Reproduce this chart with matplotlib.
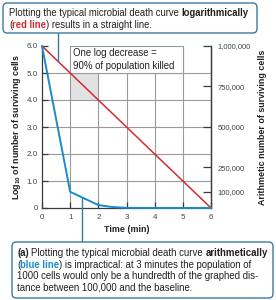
import matplotlib
matplotlib.use("Agg")
import matplotlib.pyplot as plt
from matplotlib.patches import FancyBboxPatch, Rectangle

plt.rcParams['font.family'] = ['Liberation Sans', 'DejaVu Sans']
plt.rcParams['mathtext.fontset'] = 'custom'
plt.rcParams['mathtext.rm'] = 'Liberation Sans:bold'
plt.rcParams['mathtext.bf'] = 'Liberation Sans:bold'

# data
time_min = [0, 1, 2, 3, 4, 5, 6]
log_cells = [6.0, 5.0, 4.0, 3.0, 2.0, 1.0, 0.0]
blue_time = [0, 1, 2, 2.5, 3, 4, 5, 6]
blue_cells = [1000000, 100000, 18000, 6000, 1000, 100, 10, 1]
left_ticks = [0, 1, 2, 3, 4, 5, 6]
left_labels = ['0', '1.0', '2.0', '3.0', '4.0', '5.0', '6.0']
right_ticks = [100000, 250000, 500000, 750000, 1000000]
right_labels = ['100,000', '250,000', '500,000', '750,000', '1,000,000']

RED = '#d42a32'
BLUE = '#1b8bc9'
BOX = '#3a7aa3'
GRID = '#9a9a9a'
DARK = '#3c3c3c'
TXT = '#231f20'
W, H = 276, 300

fig = plt.figure(figsize=(2.76, 3.0), dpi=100)
ax = fig.add_axes([42 / W, 1 - 208 / H, 169 / W, 162 / H])
ax.set_xlim(0, 6)
ax.set_ylim(0, 6)

# grid
for v in range(1, 6):
    ax.axvline(v, color=GRID, lw=0.8, zorder=1)
    ax.axhline(v, color=GRID, lw=0.8, zorder=1)

# shaded one-log cell and label box
ax.add_patch(Rectangle((1, 4), 1, 1, facecolor='#e2e2e2', edgecolor='none', zorder=0.5))
ax.add_patch(Rectangle((1, 5), 4, 1, facecolor='white', edgecolor=GRID, lw=0.8, zorder=2))
ax.text(1.1, 5.5, 'One log decrease =\n90% of population killed', fontsize=6.9,
        va='center', ha='left', color=TXT, linespacing=1.3, zorder=3)

ax.plot(time_min, log_cells, color=RED, lw=1.1, zorder=4)

ax.spines['top'].set_visible(False)
for s in ['left', 'bottom', 'right']:
    ax.spines[s].set_color(DARK)
    ax.spines[s].set_linewidth(0.9)

ax.set_xticks(time_min)
ax.set_xticklabels([str(t) for t in time_min])
ax.set_yticks(left_ticks)
ax.set_yticklabels(left_labels)
ax.tick_params(axis='both', direction='in', length=4, width=0.9, color=DARK,
               labelsize=5.8, labelcolor='#444444', pad=3)
ax.tick_params(axis='x', pad=4)
ax.set_xlabel('Time (min)', fontsize=6.4, fontweight='bold', color=TXT, labelpad=3)
ax.set_ylabel('Log$_{10}$ of number of surviving cells', fontsize=6.4,
              fontweight='bold', color=TXT, labelpad=3)

ax2 = ax.twinx()
ax2.set_ylim(0, 1000000)
ax2.plot(blue_time, blue_cells, color=BLUE, lw=1.4, zorder=5, clip_on=False)
ax2.set_yticks(right_ticks)
ax2.set_yticklabels(right_labels)
ax2.tick_params(axis='y', direction='in', length=6, width=0.9, color=DARK,
                labelsize=5.5, labelcolor='#444444', pad=5)
for s in ['top', 'left', 'bottom']:
    ax2.spines[s].set_visible(False)
ax2.spines['right'].set_color(DARK)
ax2.spines['right'].set_linewidth(0.9)
ax2.set_ylabel('Arithmetic number of surviving cells', fontsize=6.4,
               fontweight='bold', color=TXT, labelpad=5)

# callout boxes
def px_box(x0, y0, x1, y1):
    b = FancyBboxPatch((x0 / W, 1 - y1 / H), (x1 - x0) / W, (y1 - y0) / H,
                       boxstyle='round,pad=0,rounding_size=0.015',
                       transform=fig.transFigure, facecolor='white',
                       edgecolor=BOX, lw=1.0, zorder=10)
    fig.add_artist(b)

renderer = fig.canvas.get_renderer()

def text_w(s, size, weight):
    t = fig.text(0, 0, s, fontsize=size, fontweight=weight)
    w = t.get_window_extent(renderer).width
    t.remove()
    return w

def rich_line(x, y, pieces, size=6.9):
    # y is the baseline in pixels from the top
    sp = text_w('x x', size, 'normal') - text_w('xx', size, 'normal')
    for txt, color, weight in pieces:
        if txt.startswith(' '):
            x += sp
        core = txt.strip()
        t = fig.text(x / W, 1 - y / H, core, fontsize=size, color=color,
                     fontweight=weight, va='baseline', ha='left', zorder=11)
        x += t.get_window_extent(renderer).width
        if txt.endswith(' '):
            x += sp

px_box(3, 3, 257, 33)
rich_line(9, 15.5, [('Plotting the typical microbial death curve ', TXT, 'normal'),
                    ('logarithmically', TXT, 'bold')], size=6.85)
rich_line(9, 28, [('(', TXT, 'normal'), ('red line', RED, 'bold'),
                  (') results in a straight line.', TXT, 'normal')], size=6.85)

px_box(12, 242, 273, 298)
rich_line(17, 256, [('(a)', TXT, 'bold'),
                    (' Plotting the typical microbial death curve ', TXT, 'normal'),
                    ('arithmetically', TXT, 'bold')])
rich_line(17, 267.5, [('(', TXT, 'normal'), ('blue line', BLUE, 'bold'),
                      (') is impractical: at 3 minutes the population of', TXT, 'normal')])
rich_line(17, 279, [('1000 cells would only be a hundredth of the graphed dis-', TXT, 'normal')])
rich_line(17, 290.5, [('tance between 100,000 and the baseline.', TXT, 'normal')])

# pointer lines from boxes to curves
ax.plot([0.57, 0.57], [6 - 0.57, 6.48], color=BOX, lw=1.0, clip_on=False, zorder=9)
ax.plot([1.42, 1.42], [0.38, -1.26], color=BOX, lw=1.0, clip_on=False, zorder=9)

fig.savefig('out.png', dpi=100)
